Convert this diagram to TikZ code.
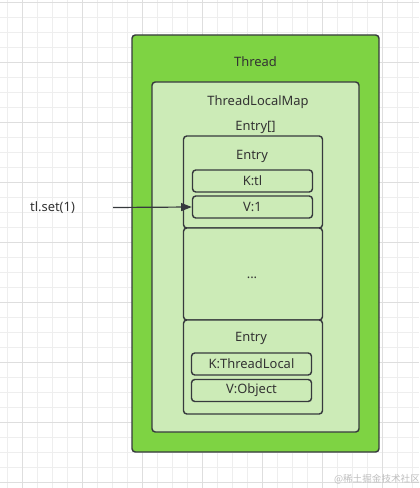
\documentclass[tikz,border=0pt]{standalone}
\usepackage{fontspec}
\setmainfont{Noto Sans}
\newfontfamily\cjk{Noto Sans CJK SC}
\usetikzlibrary{arrows.meta}
\definecolor{thrgreen}{RGB}{126,211,67}
\definecolor{litegreen}{RGB}{204,235,183}
\definecolor{strk}{RGB}{54,57,61}
\definecolor{txt}{RGB}{51,51,51}
\definecolor{gridminor}{RGB}{238,238,238}
\definecolor{gridmajor}{RGB}{222,222,222}
\tikzset{
  box/.style={draw=strk, line width=1.1pt, rounded corners=2.5pt, inner sep=0pt},
  lbl/.style={text=txt, font=\fontsize{9.7pt}{11pt}\selectfont, inner sep=0pt},
  kv/.style={box, fill=litegreen, minimum width=90pt, minimum height=16.5pt, text=txt, font=\fontsize{9.7pt}{11pt}\selectfont},
  conn/.style={draw=strk, line width=0.9pt, -{Triangle[length=8pt,width=6pt]}}
}
\begin{document}
\begin{tikzpicture}[x=0.75pt,y=-0.75pt]
\useasboundingbox (0,0) rectangle (419,488);
\fill[white] (0,0) rectangle (419,488);
% grid
\foreach \i in {0,...,27} \draw[gridminor, line width=0.75pt] ({7.3+15*\i},0) -- ({7.3+15*\i},488);
\foreach \i in {0,...,32} \draw[gridminor, line width=0.75pt] (0,{2.3+15*\i}) -- (419,{2.3+15*\i});
\foreach \i in {0,...,6} \draw[gridmajor, line width=0.75pt] ({22.3+60*\i},0) -- ({22.3+60*\i},488);
\foreach \i in {0,...,8} \draw[gridmajor, line width=0.75pt] (0,{2.3+60*\i}) -- (419,{2.3+60*\i});
% boxes
\node[box, fill=thrgreen, minimum width=185.25pt, minimum height=312.75pt] (thread) at (255.5,243.5) {};
\node[lbl] (threadlbl) at (255.5,62) {Thread};
\node[box, fill=litegreen, minimum width=155.25pt, minimum height=262.5pt] (tlm) at (255.5,257) {};
\node[lbl] (tlmlbl) at (258,102) {ThreadLocalMap};
\node[lbl] (arrlbl) at (255.5,127) {Entry[]};
\node[box, fill=litegreen, minimum width=104.25pt, minimum height=69pt] (entry1) at (253,182) {};
\node[lbl] (entry1lbl) at (252,156) {Entry};
\node[kv] (ktl) at (252.5,181) {K:tl};
\node[kv] (v1) at (252.5,207) {V:1};
\node[box, fill=litegreen, minimum width=104.25pt, minimum height=69pt] (dots) at (253,274) {};
\node[lbl] (dotslbl) at (252,278) {...};
\node[box, fill=litegreen, minimum width=104.25pt, minimum height=70.5pt] (entry2) at (253,367) {};
\node[lbl] (entry2lbl) at (251,338.5) {Entry};
\node[kv] (ktlc) at (251.5,364) {K:ThreadLocal};
\node[kv] (vobj) at (251.5,390.5) {V:Object};
% call
\node[lbl] (set) at (52.5,208) {tl.set(1)};
\coordinate (setstart) at (113,207.5);
\draw[conn] (setstart) -- (v1.west);
% watermark
\node[text=black!25, font=\cjk\fontsize{7.2pt}{8pt}\selectfont, inner sep=0pt] (wm) at (377,479.5) {@稀土掘金技术社区};
\end{tikzpicture}
\end{document}
